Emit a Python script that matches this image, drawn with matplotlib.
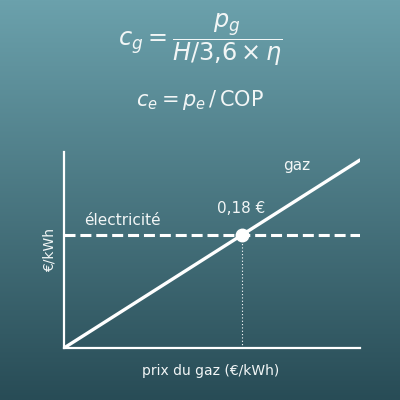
import matplotlib
matplotlib.use("Agg")
import matplotlib.pyplot as plt
import numpy as np

# gas price (€/kWh) and cost of heat from gas
gas_price = [0.0, 0.30]
gas_cost = [0.0, 0.25]
elec_cost = 0.15
breakeven = 0.18
breakeven_label = "0,18 €"

xlabel = "prix du gaz (€/kWh)"
ylabel = "€/kWh"

fg = "#f2f6f6"

fig = plt.figure(figsize=(4, 4), dpi=100)

# background gradient
bg = fig.add_axes([0, 0, 1, 1], zorder=-10)
top = np.array([107, 161, 172]) / 255
bot = np.array([40, 76, 86]) / 255
t = np.linspace(0, 1, 256)[:, None]
grad = top * (1 - t) + bot * t
bg.imshow(grad[:, None, :].repeat(2, axis=1), aspect="auto", extent=[0, 1, 0, 1])
bg.axis("off")

fig.text(0.5, 0.9, r"$c_g = \dfrac{p_g}{H/3{,}6 \times \eta}$",
         ha="center", va="center", color=fg, fontsize=17.3)
fig.text(0.5, 0.75, r"$c_e = p_e\,/\,\mathrm{COP}$",
         ha="center", va="center", color=fg, fontsize=15)

ax = fig.add_axes([0.16, 0.13, 0.74, 0.49])
ax.patch.set_alpha(0)
ax.plot(gas_price, gas_cost, color="white", lw=2.4, solid_capstyle="round")
ax.plot(gas_price, [elec_cost, elec_cost], color="white", lw=2.2,
        linestyle=(0, (3.6, 1.6)))
ax.plot([breakeven, breakeven], [0, elec_cost], color="white", lw=0.8,
        linestyle=(0, (1, 2)))
ax.plot([breakeven], [elec_cost], "o", color="white", ms=9)

ax.set_xlim(0, 0.30)
ax.set_ylim(0, 0.2606)
ax.set_xticks([])
ax.set_yticks([])
for s in ["top", "right"]:
    ax.spines[s].set_visible(False)
for s in ["left", "bottom"]:
    ax.spines[s].set_color("white")
    ax.spines[s].set_linewidth(1.6)

ax.text(0.236, 0.242, "gaz", color=fg, fontsize=11, ha="center", va="center")
ax.text(0.0588, 0.169, "électricité", color=fg, fontsize=11, ha="center", va="center")
ax.text(breakeven, 0.185, breakeven_label, color=fg, fontsize=11, ha="center", va="center")

fig.text(0.5275, 0.072, xlabel, color=fg, fontsize=10, ha="center", va="center")
fig.text(0.125, 0.375, ylabel, color=fg, fontsize=10, ha="center", va="center",
         rotation=90)

fig.savefig("out.png", dpi=100)
